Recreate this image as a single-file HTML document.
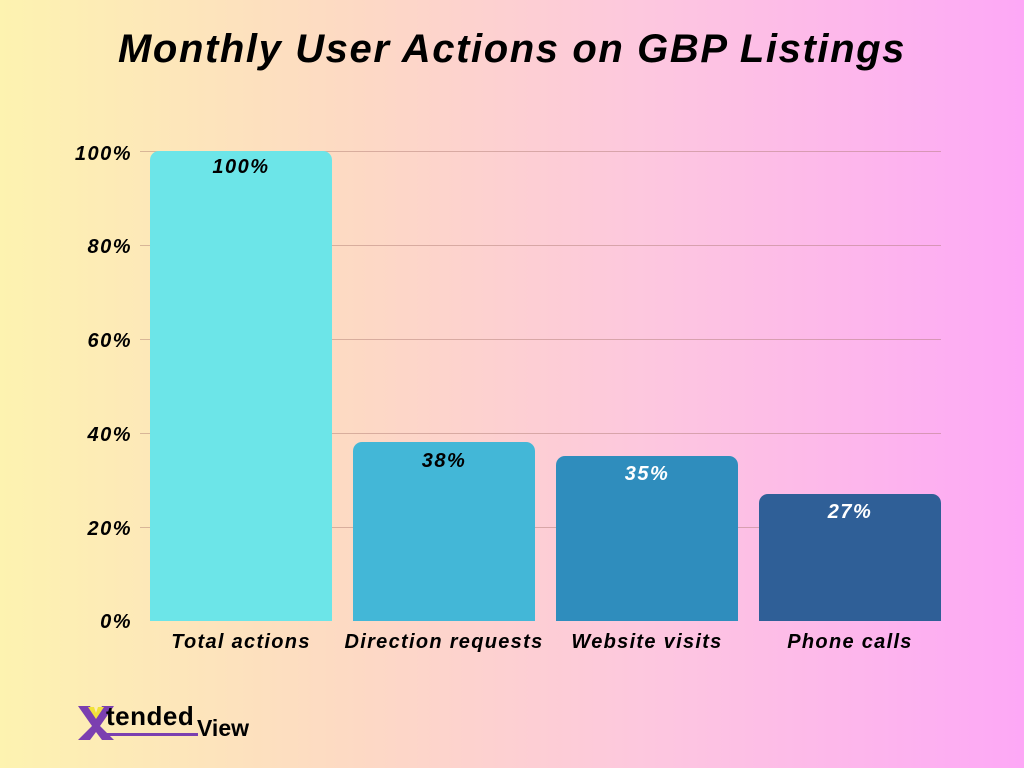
<!DOCTYPE html>
<html><head><meta charset="utf-8"><style>
body{margin:0;width:1024px;height:768px;overflow:hidden;background:linear-gradient(90deg,#fdf3b0 0%,#fdd9c4 35%,#fdc6e0 65%,#fda8f6 100%);font-family:"Liberation Sans",sans-serif;position:relative}
.t{position:absolute;left:0;width:1024px;top:27px;text-align:center;font-size:40px;font-weight:bold;font-style:italic;color:#000;letter-spacing:1.6px}
.g{position:absolute;left:140px;width:801px;height:1px;background:rgba(170,120,110,0.45)}
.yl{position:absolute;left:50px;width:82px;text-align:right;font-size:20px;font-weight:bold;font-style:italic;color:#000;letter-spacing:1.5px}
.b{position:absolute;width:182px;border-radius:9px 9px 0 0}
.bl{position:absolute;width:182px;text-align:center;font-size:20px;font-weight:bold;font-style:italic;letter-spacing:1.5px}
.xl{position:absolute;top:631px;width:240px;text-align:center;font-size:20px;font-weight:bold;font-style:italic;color:#000;letter-spacing:1.3px}
</style></head><body>
<div class="t">Monthly User Actions on GBP Listings</div>
<div class="g" style="top:151px"></div><div class="g" style="top:245px"></div><div class="g" style="top:339px"></div><div class="g" style="top:433px"></div><div class="g" style="top:527px"></div>
<div class="yl" style="top:143px">100%</div><div class="yl" style="top:236px">80%</div><div class="yl" style="top:330px">60%</div><div class="yl" style="top:424px">40%</div><div class="yl" style="top:518px">20%</div><div class="yl" style="top:611px">0%</div>
<div class="b" style="left:150px;top:151px;height:470px;background:#6ce5e8"></div>
<div class="b" style="left:353px;top:442px;height:179px;background:#43b7d7"></div>
<div class="b" style="left:556px;top:456px;height:165px;background:#2f8dbd"></div>
<div class="b" style="left:759px;top:494px;height:127px;background:#2f5f97"></div>
<div class="bl" style="left:150px;top:156px;color:#000">100%</div>
<div class="bl" style="left:353px;top:450px;color:#000">38%</div>
<div class="bl" style="left:556px;top:463px;color:#fff">35%</div>
<div class="bl" style="left:759px;top:501px;color:#fff">27%</div>
<div class="xl" style="left:121px">Total actions</div>
<div class="xl" style="left:324px">Direction requests</div>
<div class="xl" style="left:527px">Website visits</div>
<div class="xl" style="left:730px">Phone calls</div>
<svg style="position:absolute;left:76px;top:704px" width="40" height="38"><polygon points="2,2 14,2 20,14 26,2 38,2 24,22 38,36 26,36 20,28 14,36 2,36 16,22" fill="#7b3fb0"/><polygon points="12,3 18,3 20,9 22,3 28,3 20,15" fill="#f1e23a"/></svg>
<div style="position:absolute;left:106px;top:701px;font-size:26px;font-weight:bold;color:#000;letter-spacing:0.5px">tended</div>
<div style="position:absolute;left:100px;top:733px;width:98px;height:3px;background:#7b3fb0"></div>
<div style="position:absolute;left:197px;top:715px;font-size:23px;font-weight:bold;color:#000">View</div>
</body></html>
